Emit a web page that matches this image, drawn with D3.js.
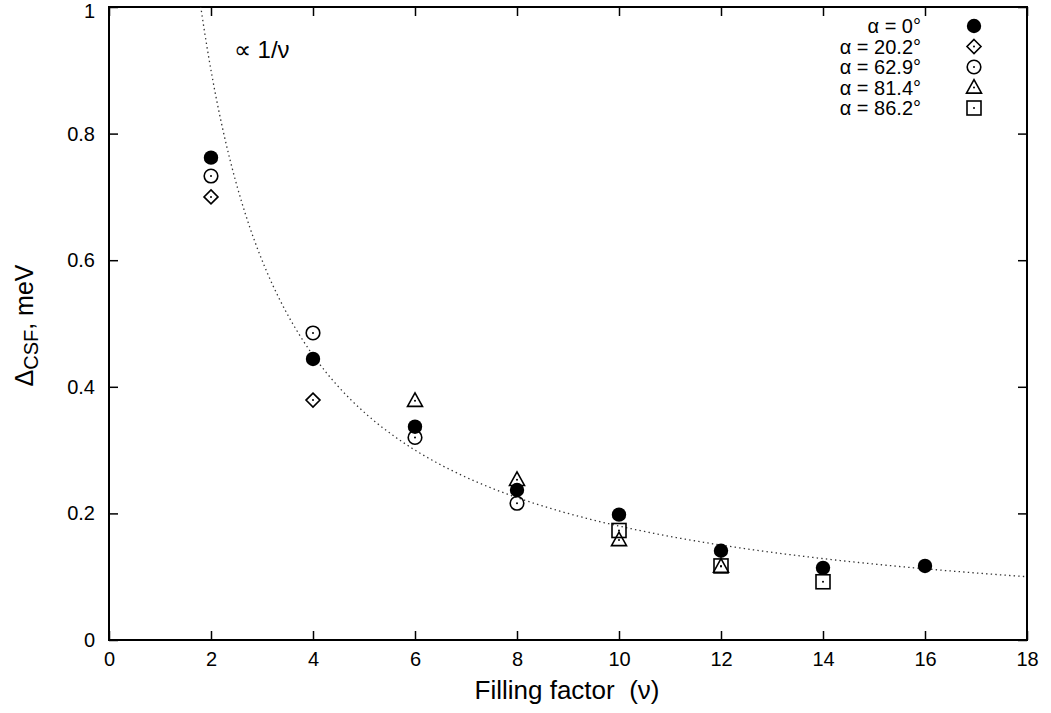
<!DOCTYPE html>
<html>
<head>
<meta charset="utf-8">
<script src="https://cdn.jsdelivr.net/npm/d3@7"></script>
<style>
  html, body { margin: 0; padding: 0; background: #fff; }
  svg { display: block; font-family: "Liberation Sans", Arial, Helvetica, sans-serif; }
</style>
</head>
<body>
<svg id="chart" width="1051" height="713"></svg>
<script>
// Gap values Δ_CSF (meV) versus filling factor ν for several tilt angles α
const nuA0    = [2, 4, 6, 8, 10, 12, 14, 16];
const gapA0   = [0.762, 0.444, 0.337, 0.237, 0.198, 0.141, 0.114, 0.117];
const nuA20   = [2, 4];
const gapA20  = [0.700, 0.379];
const nuA63   = [2, 4, 6, 8];
const gapA63  = [0.733, 0.485, 0.320, 0.216];
const nuA81   = [6, 8, 10, 12];
const gapA81  = [0.378, 0.253, 0.158, 0.116];
const nuA86   = [10, 12, 14];
const gapA86  = [0.173, 0.117, 0.092];

const seriesLabels = ["α = 0°", "α = 20.2°", "α = 62.9°", "α = 81.4°", "α = 86.2°"];
const seriesShapes = ["filledCircle", "diamond", "circle", "triangle", "square"];

const xTicks = [0, 2, 4, 6, 8, 10, 12, 14, 16, 18];
const yTicks = [0, 0.2, 0.4, 0.6, 0.8, 1];

// Reference curve: Δ = A / ν
const fitCoef = 1.8;
const fitLabel = "∝ 1/ν";

const series = [
  { nu: nuA0,  gap: gapA0 },
  { nu: nuA20, gap: gapA20 },
  { nu: nuA63, gap: gapA63 },
  { nu: nuA81, gap: gapA81 },
  { nu: nuA86, gap: gapA86 }
].map((s, i) => ({
  label: seriesLabels[i],
  shape: seriesShapes[i],
  points: s.nu.map((n, j) => ({ nu: n, gap: s.gap[j] }))
}));

const svg = d3.select("#chart");
const m = { left: 109, right: 1027, top: 7, bottom: 640 };

const x = d3.scaleLinear().domain([0, 18]).range([m.left, m.right]);
const y = d3.scaleLinear().domain([0, 1]).range([m.bottom, m.top]);

const tickLen = 9;
const fontTick = 20;

// Clip region for the curve
svg.append("defs").append("clipPath").attr("id", "plotClip")
  .append("rect")
  .attr("x", m.left).attr("y", m.top)
  .attr("width", m.right - m.left).attr("height", m.bottom - m.top);

// Axes with inward ticks on all four sides
const axB = d3.axisBottom(x).tickValues(xTicks).tickSize(-tickLen).tickPadding(12).tickFormat(d3.format("d"));
const axT = d3.axisTop(x).tickValues(xTicks).tickSize(-tickLen).tickFormat("");
const axL = d3.axisLeft(y).tickValues(yTicks).tickSize(-tickLen).tickPadding(14).tickFormat(d => d3.format("~g")(d));
const axR = d3.axisRight(y).tickValues(yTicks).tickSize(-tickLen).tickFormat("");

function styleAxis(g) {
  g.select(".domain").remove();
  g.selectAll(".tick line").attr("stroke", "#000").attr("stroke-width", 1.5);
  g.selectAll(".tick text").attr("font-size", fontTick).attr("fill", "#000")
    .attr("font-family", "Liberation Sans, Arial, sans-serif");
}

svg.append("g").attr("transform", `translate(0,${m.bottom})`).call(axB).call(styleAxis);
svg.append("g").attr("transform", `translate(0,${m.top})`).call(axT).call(styleAxis);
const gLeft = svg.append("g").attr("transform", `translate(${m.left},0)`).call(axL).call(styleAxis);
// keep the topmost label fully inside the page
gLeft.selectAll(".tick text").filter(d => d === 1).attr("dy", "0.52em");
svg.append("g").attr("transform", `translate(${m.right},0)`).call(axR).call(styleAxis);

// Frame
svg.append("rect")
  .attr("x", m.left).attr("y", m.top)
  .attr("width", m.right - m.left).attr("height", m.bottom - m.top)
  .attr("fill", "none").attr("stroke", "#000").attr("stroke-width", 2);

// Dotted 1/ν curve
const curveNu = d3.range(1.7, 18.001, 0.02);
svg.append("path")
  .datum(curveNu)
  .attr("clip-path", "url(#plotClip)")
  .attr("d", d3.line().x(d => x(d)).y(d => y(fitCoef / d)))
  .attr("fill", "none")
  .attr("stroke", "#333")
  .attr("stroke-width", 1.3)
  .attr("stroke-dasharray", "1.4,3.2");

svg.append("text")
  .attr("x", x(2.45)).attr("y", y(0.92))
  .attr("font-size", 24)
  .text(fitLabel);

// Point symbols
function drawSymbol(g, shape, cx, cy) {
  const sw = 1.6;
  if (shape === "filledCircle") {
    g.append("circle").attr("cx", cx).attr("cy", cy).attr("r", 7.2).attr("fill", "#000");
    return;
  }
  if (shape === "circle") {
    g.append("circle").attr("cx", cx).attr("cy", cy).attr("r", 6.8)
      .attr("fill", "none").attr("stroke", "#000").attr("stroke-width", sw);
  } else if (shape === "diamond") {
    const r = 7;
    g.append("path").attr("d", `M${cx},${cy - r}L${cx + r},${cy}L${cx},${cy + r}L${cx - r},${cy}Z`)
      .attr("fill", "none").attr("stroke", "#000").attr("stroke-width", sw);
  } else if (shape === "triangle") {
    const h = 7.5;
    g.append("path").attr("d", `M${cx},${cy - h * 1.05}L${cx + h},${cy + h * 0.75}L${cx - h},${cy + h * 0.75}Z`)
      .attr("fill", "none").attr("stroke", "#000").attr("stroke-width", sw);
  } else if (shape === "square") {
    const s = 7;
    g.append("rect").attr("x", cx - s).attr("y", cy - s).attr("width", 2 * s).attr("height", 2 * s)
      .attr("fill", "none").attr("stroke", "#000").attr("stroke-width", sw);
  }
  g.append("circle").attr("cx", cx).attr("cy", cy).attr("r", 1).attr("fill", "#000");
}

const pointLayer = svg.append("g");
series.forEach(s => {
  const g = pointLayer.append("g");
  s.points.forEach(p => drawSymbol(g, s.shape, x(p.nu), y(p.gap)));
});

// Legend
const legend = svg.append("g");
series.forEach((s, i) => {
  const cy = 26 + i * 20.5;
  legend.append("text")
    .attr("x", 921).attr("y", cy).attr("dy", "0.36em")
    .attr("text-anchor", "end").attr("font-size", fontTick)
    .text(s.label);
  drawSymbol(legend, s.shape, 974, cy);
});

// Axis titles
svg.append("text")
  .attr("x", (m.left + m.right) / 2 - 1).attr("y", 699)
  .attr("text-anchor", "middle").attr("font-size", 26)
  .attr("xml:space", "preserve")
  .text("Filling factor  (ν)");

const yTitle = svg.append("text")
  .attr("transform", `translate(33,${(m.top + m.bottom) / 2 + 2}) rotate(-90)`)
  .attr("text-anchor", "middle").attr("font-size", 25);
yTitle.append("tspan").text("Δ");
yTitle.append("tspan").attr("font-size", 20).attr("dy", 5).text("CSF");
yTitle.append("tspan").attr("dy", -5).text(", meV");
</script>
</body>
</html>
